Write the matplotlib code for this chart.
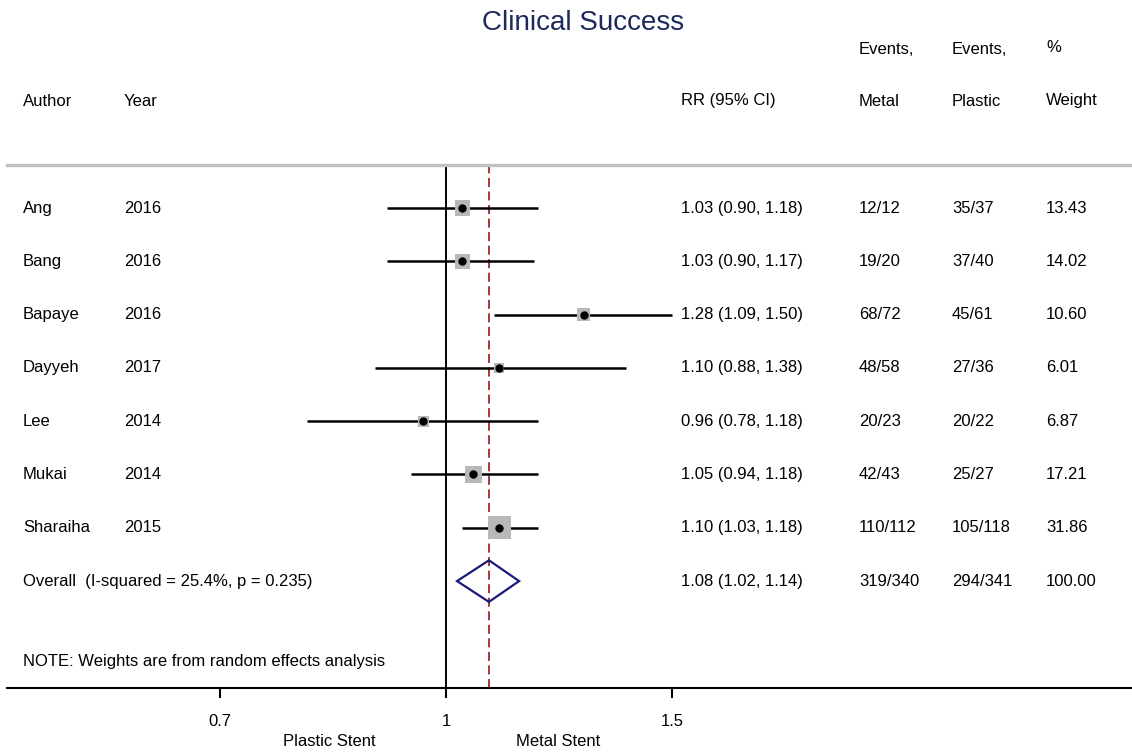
import numpy as np
import matplotlib
matplotlib.use('Agg')
import matplotlib.pyplot as plt
import matplotlib.transforms as mtransforms

plt.rcParams['font.family'] = ['Liberation Sans', 'DejaVu Sans']

authors = ['Ang', 'Bang', 'Bapaye', 'Dayyeh', 'Lee', 'Mukai', 'Sharaiha']
years = ['2016', '2016', '2016', '2017', '2014', '2014', '2015']
rr = [1.03, 1.03, 1.28, 1.10, 0.96, 1.05, 1.10]
lo = [0.90, 0.90, 1.09, 0.88, 0.78, 0.94, 1.03]
hi = [1.18, 1.17, 1.50, 1.38, 1.18, 1.18, 1.18]
metal = ['12/12', '19/20', '68/72', '48/58', '20/23', '42/43', '110/112']
plastic = ['35/37', '37/40', '45/61', '27/36', '20/22', '25/27', '105/118']
weight = [13.43, 14.02, 10.60, 6.01, 6.87, 17.21, 31.86]

overall_rr, overall_lo, overall_hi = 1.08, 1.02, 1.14
overall_label = 'Overall  (I-squared = 25.4%, p = 0.235)'
overall_metal, overall_plastic, overall_weight = '319/340', '294/341', '100.00'

tick_vals = [1 / 1.5, 1, 1.5]
tick_labels = ['0.7', '1', '1.5']

W, H = 1132, 753
fig = plt.figure(figsize=(W / 100, H / 100), dpi=100)

def fx(px):
    return px / W

def fy(py):
    return 1 - py / H

# forest axes: spans from gray line (165px) down to axis line (688px)
ax = fig.add_axes([fx(7), fy(688), 1 - fx(7), fy(165) - fy(688)])
ax.set_xscale('log')
# 1 sits at 446px, ~558px per log unit
ax.set_xlim(np.exp((7 - 446) / 558), np.exp((1132 - 446) / 558))
ax.set_ylim(9.006, -0.807)

for s in ['left', 'right']:
    ax.spines[s].set_visible(False)
ax.spines['top'].set_color('#c0c0c0')
ax.spines['top'].set_linewidth(2.4)
ax.spines['bottom'].set_linewidth(1.5)
ax.set_yticks([])
ax.xaxis.set_minor_locator(matplotlib.ticker.NullLocator())
ax.set_xticks(tick_vals)
ax.set_xticklabels(tick_labels, fontsize=12)
ax.tick_params(axis='x', direction='out', length=7, width=1.5, pad=12)

ax.axvline(1, color='black', lw=1.4, zorder=1)
ax.axvline(overall_rr, color='#a0282d', lw=1.3, ls=(0, (5, 2.5)), zorder=1)

n = len(authors)
rows = np.arange(n)
ax.hlines(rows, lo, hi, color='black', lw=1.8, zorder=2)
ax.scatter(rr, rows, s=[8.8 * w for w in weight], marker='s', color='#b8b8b8',
           edgecolors='none', zorder=3)
ax.plot(rr, rows, 'o', color='black', ms=5, zorder=4)

# overall diamond
h = 0.39
ax.fill([overall_lo, overall_rr, overall_hi, overall_rr],
        [n, n - h, n, n + h], facecolor='none', edgecolor='#1a1a78', lw=1.6, zorder=3)

tr = mtransforms.blended_transform_factory(fig.transFigure, ax.transData)
fs = 12
for i in range(n):
    ax.text(fx(23), i, authors[i], transform=tr, fontsize=fs, va='center')
    ax.text(fx(124), i, years[i], transform=tr, fontsize=fs, va='center')
    ax.text(fx(681), i, '%.2f (%.2f, %.2f)' % (rr[i], lo[i], hi[i]), transform=tr,
            fontsize=fs, va='center')
    ax.text(fx(859), i, metal[i], transform=tr, fontsize=fs, va='center')
    ax.text(fx(952), i, plastic[i], transform=tr, fontsize=fs, va='center')
    ax.text(fx(1046), i, '%.2f' % weight[i], transform=tr, fontsize=fs, va='center')

ax.text(fx(23), n, overall_label, transform=tr, fontsize=fs, va='center')
ax.text(fx(681), n, '%.2f (%.2f, %.2f)' % (overall_rr, overall_lo, overall_hi),
        transform=tr, fontsize=fs, va='center')
ax.text(fx(859), n, overall_metal, transform=tr, fontsize=fs, va='center')
ax.text(fx(952), n, overall_plastic, transform=tr, fontsize=fs, va='center')
ax.text(fx(1046), n, overall_weight, transform=tr, fontsize=fs, va='center')
ax.text(fx(23), n + 1.5, 'NOTE: Weights are from random effects analysis',
        transform=tr, fontsize=fs, va='center')

# headers
fig.text(fx(583), fy(23), 'Clinical Success', fontsize=20, color='#1c2a5c',
         ha='center', va='center')
fig.text(fx(23), fy(101), 'Author', fontsize=fs, va='center')
fig.text(fx(124), fy(101), 'Year', fontsize=fs, va='center')
fig.text(fx(681), fy(101), 'RR (95% CI)', fontsize=fs, va='center')
fig.text(fx(859), fy(50), 'Events,', fontsize=fs, va='center')
fig.text(fx(859), fy(101), 'Metal', fontsize=fs, va='center')
fig.text(fx(952), fy(50), 'Events,', fontsize=fs, va='center')
fig.text(fx(952), fy(101), 'Plastic', fontsize=fs, va='center')
fig.text(fx(1046), fy(47), '%', fontsize=fs, va='center')
fig.text(fx(1046), fy(101), 'Weight', fontsize=fs, va='center')

fig.text(fx(329), fy(741), 'Plastic Stent', fontsize=fs, ha='center', va='center')
fig.text(fx(558), fy(741), 'Metal Stent', fontsize=fs, ha='center', va='center')

fig.savefig('out.png', dpi=100)
